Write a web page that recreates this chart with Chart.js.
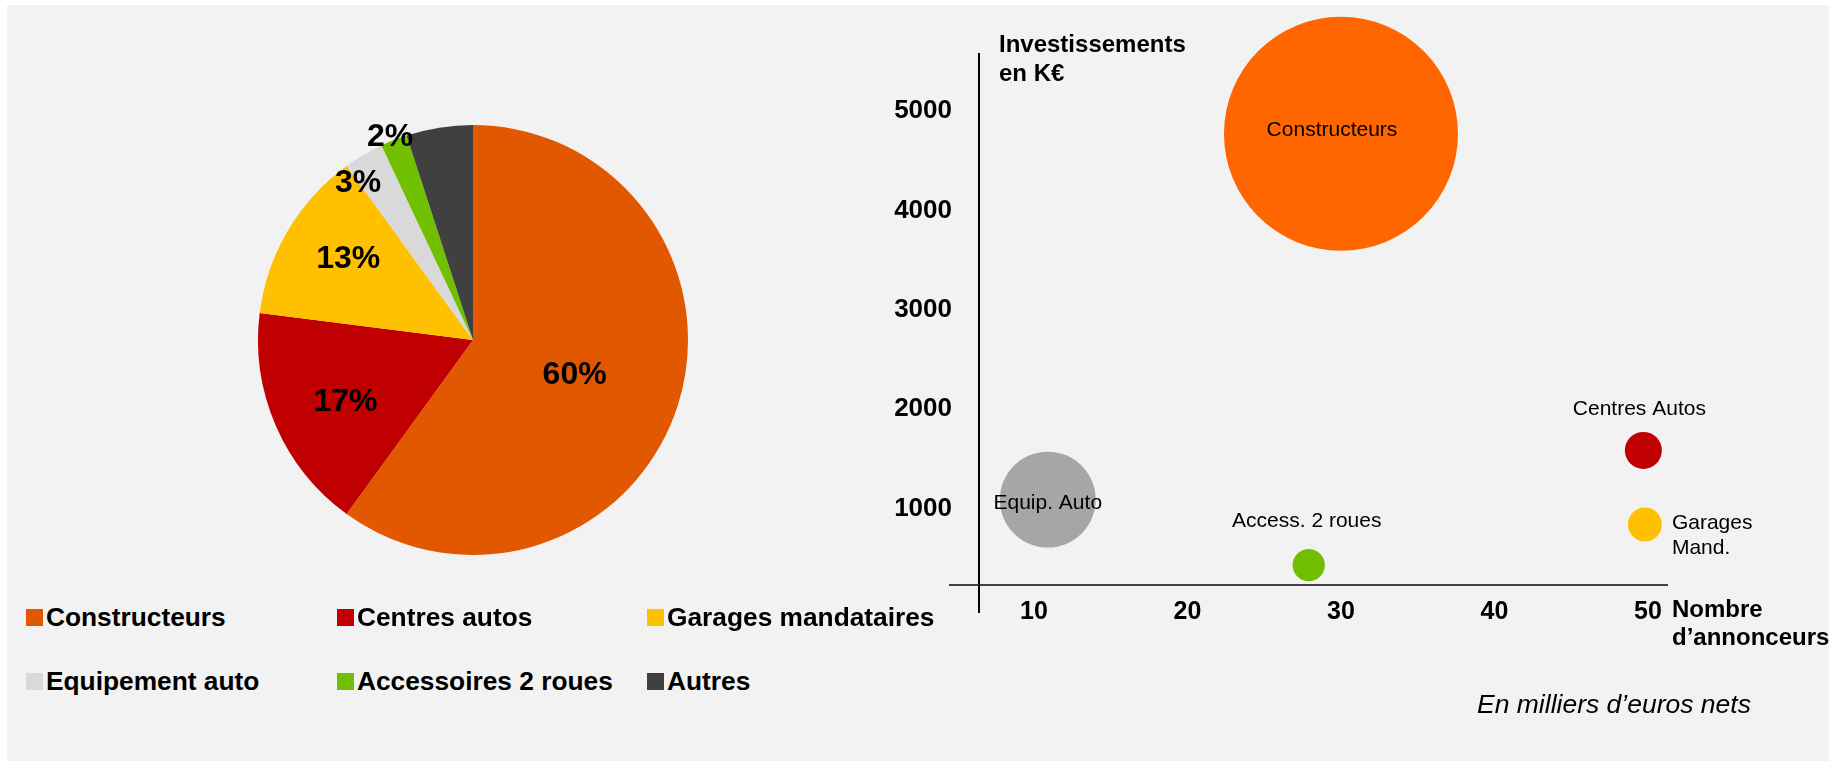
<!DOCTYPE html>
<html lang="fr">
<head>
<meta charset="utf-8">
<title>Investissements automobile</title>
<script src="https://cdn.jsdelivr.net/npm/chart.js@4.4.1/dist/chart.umd.min.js"></script>
<style>
  html, body { margin: 0; padding: 0; background: #fff; }
  body { width: 1829px; height: 761px; position: relative; overflow: hidden; font-family: "Liberation Sans", Arial, sans-serif; }
  #fond { position: absolute; left: 7px; top: 5px; right: 0; bottom: 0; background: #f2f2f2; }
  #pizza { position: absolute; left: 233px; top: 100px; }
  #bulles { position: absolute; left: 860px; top: 0; }
  #legende { position: absolute; left: 26px; top: 605px; width: 900px; }
  .item { position: absolute; display: flex; align-items: center; height: 25px; font-weight: bold; font-size: 26.3px; line-height: 1; color: #000; white-space: nowrap; }
  .item i { display: inline-block; width: 17px; height: 17px; margin-right: 3px; }
</style>
</head>
<body>
<div id="fond"></div>
<canvas id="pizza" width="480" height="480"></canvas>
<canvas id="bulles" width="969" height="761"></canvas>
<div id="legende"></div>
<script>
// camembert : répartition des investissements par secteur
const secteurs = ['Constructeurs', 'Centres autos', 'Garages mandataires', 'Equipement auto', 'Accessoires 2 roues', 'Autres'];
const parts = [60, 17, 13, 3, 2, 5];
const couleursPizza = ['#e15800', '#c00000', '#ffc000', '#d9d9d9', '#70bf00', '#404040'];
const partsAffichees = [true, true, true, true, true, false];

// bulles : nombre d'annonceurs / investissements
const bulles = ['Constructeurs', 'Centres Autos', 'Garages\nMand.', 'Equip. Auto', 'Access. 2 roues'];
const annonceurs = [30.0, 49.7, 49.8, 10.9, 27.9];
const investissements = [4770, 1585, 840, 1090, 430];
const tailles = [100, 2.5, 2.1, 16.8, 1.9];
const couleursBulles = ['#ff6600', '#c00000', '#ffc000', '#a6a6a6', '#70bf00'];

const ticksX = [10, 20, 30, 40, 50];
const ticksY = [1000, 2000, 3000, 4000, 5000];

const POLICE = '"Liberation Sans", Arial, sans-serif';
const R_MAX = 117;

// position des pourcentages (fraction du rayon, décalage en degrés)
const placementsPizza = [
  { r: 0.50, da: 1 },
  { r: 0.66, da: -2.6 },
  { r: 0.69, da: 2.2 },
  { r: 0.905, da: -5.6 },
  { r: 1.02, da: -0.6 },
  null
];

// position des noms autour des bulles
const placementsBulles = [
  { align: 'center', dx: -9, dy: -4 },
  { align: 'center', dx: -4, dy: -41.5 },
  { align: 'left', dx: 27, dy: -1.5 },
  { align: 'center', dx: 0, dy: 4 },
  { align: 'center', dx: -2, dy: -44.5 }
];

const etiquettesPizza = {
  id: 'etiquettesPizza',
  afterDatasetsDraw(chart) {
    const ctx = chart.ctx;
    const meta = chart.getDatasetMeta(0);
    ctx.save();
    ctx.font = 'bold 32px ' + POLICE;
    ctx.fillStyle = '#000';
    ctx.textAlign = 'center';
    ctx.textBaseline = 'middle';
    meta.data.forEach((arc, i) => {
      const p = placementsPizza[i];
      if (!partsAffichees[i] || !p) return;
      const { startAngle, endAngle, outerRadius, x, y } = arc.getProps(['startAngle', 'endAngle', 'outerRadius', 'x', 'y'], true);
      const a = (startAngle + endAngle) / 2 + p.da * Math.PI / 180;
      ctx.fillText(parts[i] + '%', x + Math.cos(a) * outerRadius * p.r, y + Math.sin(a) * outerRadius * p.r);
    });
    ctx.restore();
  }
};

new Chart(document.getElementById('pizza'), {
  type: 'pie',
  data: {
    labels: secteurs,
    datasets: [{
      data: parts,
      backgroundColor: couleursPizza,
      borderWidth: 0
    }]
  },
  options: {
    responsive: false,
    animation: false,
    layout: { padding: 25 },
    plugins: {
      legend: { display: false },
      tooltip: { enabled: false }
    }
  },
  plugins: [etiquettesPizza]
});

// légende du camembert
const legende = document.getElementById('legende');
secteurs.forEach((nom, i) => {
  const item = document.createElement('div');
  item.className = 'item';
  item.style.left = [0, 311, 621][i % 3] + 'px';
  item.style.top = Math.floor(i / 3) * 64 + 'px';
  const carre = document.createElement('i');
  carre.style.background = couleursPizza[i];
  item.appendChild(carre);
  item.appendChild(document.createTextNode(nom));
  legende.appendChild(item);
});

const nomsBulles = {
  id: 'nomsBulles',
  afterDatasetsDraw(chart) {
    const ctx = chart.ctx;
    const meta = chart.getDatasetMeta(0);
    ctx.save();
    ctx.font = '21px ' + POLICE;
    ctx.fillStyle = '#000';
    ctx.textBaseline = 'middle';
    meta.data.forEach((pt, i) => {
      const p = placementsBulles[i];
      ctx.textAlign = p.align;
      bulles[i].split('\n').forEach((ligne, k) => {
        ctx.fillText(ligne, pt.x + p.dx, pt.y + p.dy + k * 25);
      });
    });
    ctx.restore();
  }
};

const habillage = {
  id: 'habillage',
  afterDraw(chart) {
    const { ctx, chartArea: a } = chart;
    ctx.save();
    ctx.lineWidth = 2;
    ctx.strokeStyle = '#404040';
    ctx.beginPath();
    ctx.moveTo(a.left - 30, a.bottom);
    ctx.lineTo(a.left, a.bottom);
    ctx.stroke();
    ctx.strokeStyle = '#000';
    ctx.beginPath();
    ctx.moveTo(a.left, a.bottom);
    ctx.lineTo(a.left, a.bottom + 28);
    ctx.stroke();

    ctx.fillStyle = '#000';
    ctx.textAlign = 'left';
    ctx.textBaseline = 'alphabetic';
    ctx.font = 'bold 24px ' + POLICE;
    ctx.fillText('Investissements', a.left + 20, a.top - 2);
    ctx.fillText('en K€', a.left + 20, a.top + 27);
    ctx.fillText('Nombre', a.right + 5, a.bottom + 32);
    ctx.fillText('d’annonceurs', a.right + 5, a.bottom + 60);
    ctx.font = 'italic 26.5px ' + POLICE;
    ctx.fillText('En milliers d’euros nets', a.right - 190, a.bottom + 128);
    ctx.restore();
  }
};

new Chart(document.getElementById('bulles'), {
  type: 'bubble',
  data: {
    datasets: [{
      data: annonceurs.map((x, i) => ({ x: x, y: investissements[i] })),
      backgroundColor: couleursBulles,
      borderWidth: 0,
      radius: (c) => R_MAX * Math.sqrt(tailles[c.dataIndex] / 100),
      clip: false
    }]
  },
  options: {
    responsive: false,
    animation: false,
    layout: { autoPadding: false, padding: { left: 9, top: 54, right: 162, bottom: 116 } },
    plugins: {
      legend: { display: false },
      tooltip: { enabled: false }
    },
    scales: {
      x: {
        type: 'linear',
        min: 6.42,
        max: 51.24,
        afterFit: (s) => { s.height = 60; },
        afterBuildTicks: (s) => { s.ticks = ticksX.map(v => ({ value: v })); },
        grid: { display: false, drawTicks: false },
        border: { display: true, color: '#404040', width: 2 },
        ticks: { padding: 12, font: { family: POLICE, size: 25, weight: 'bold' }, color: '#000' }
      },
      y: {
        type: 'linear',
        min: 231,
        max: 5573,
        afterFit: (s) => { s.width = 110; },
        afterBuildTicks: (s) => { s.ticks = ticksY.map(v => ({ value: v })); },
        grid: { display: false, drawTicks: false },
        border: { display: true, color: '#000', width: 2 },
        ticks: { padding: 27, font: { family: POLICE, size: 26, weight: 'bold' }, color: '#000', callback: (v) => String(v) }
      }
    }
  },
  plugins: [nomsBulles, habillage]
});
</script>
</body>
</html>
